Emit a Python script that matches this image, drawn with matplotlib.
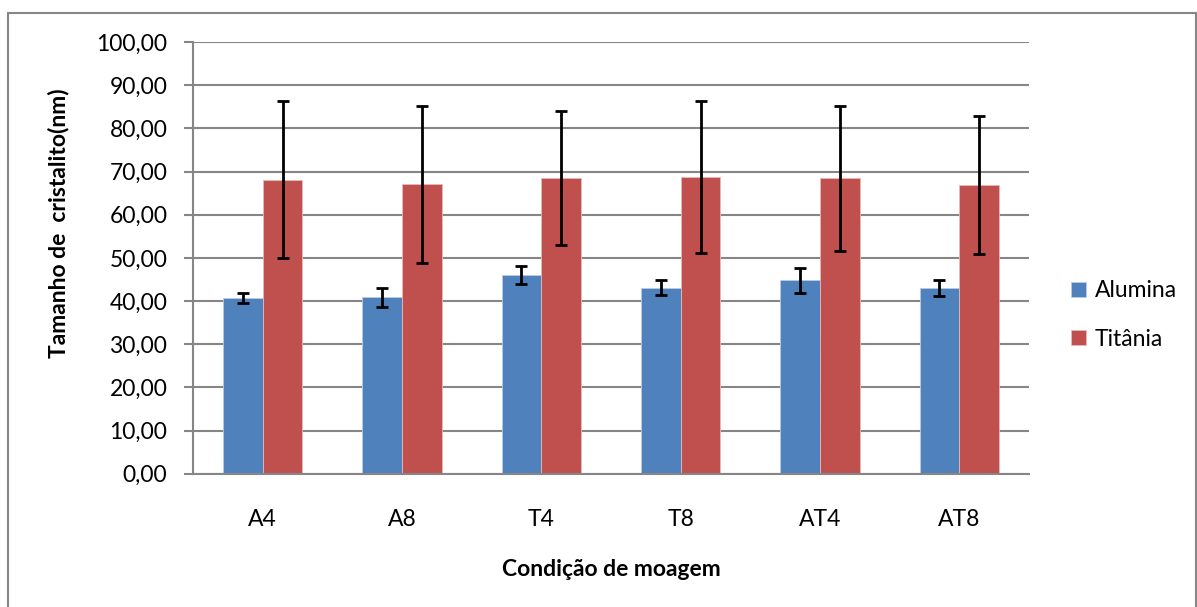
import matplotlib
matplotlib.use("Agg")
import matplotlib.pyplot as plt
import numpy as np
from matplotlib.patches import Rectangle

categories = ["A4", "A8", "T4", "T8", "AT4", "AT8"]
alumina = [40.7, 40.9, 46.0, 43.1, 44.8, 43.0]
alumina_err = [1.2, 2.2, 2.1, 1.7, 2.9, 1.9]
titania = [68.1, 67.0, 68.5, 68.7, 68.4, 66.9]
titania_err = [18.2, 18.1, 15.6, 17.6, 16.8, 16.0]
series_names = ["Alumina", "Titânia"]
yticks = np.arange(0, 101, 10)

plt.rcParams['font.family'] = ['Lato', 'DejaVu Sans']
FS = 16.5

W, H = 1197, 607
fig = plt.figure(figsize=(W / 100, H / 100), dpi=100)
ax = fig.add_axes([193 / W, 1 - 473.8 / H, (1029 - 193) / W, (473.8 - 42) / H])

x = np.arange(len(categories))
w = 1 / 3.5
ekw = dict(ecolor="black", elinewidth=2.0, capthick=2.0)
ax.bar(x - w / 2, alumina, w, color="#4F81BD", edgecolor="#B8CCE4", linewidth=0.6,
       yerr=alumina_err, capsize=4.5, error_kw=ekw, label=series_names[0], zorder=3)
ax.bar(x + w / 2, titania, w, color="#C0504D", edgecolor="#E6B9B8", linewidth=0.6,
       yerr=titania_err, capsize=4.5, error_kw=ekw, label=series_names[1], zorder=3)

ax.set_xlim(-0.5, len(categories) - 0.5)
ax.set_ylim(0, 100)
ax.set_yticks(yticks)
ax.set_yticklabels([f"{v:.2f}".replace(".", ",") for v in yticks], fontsize=FS)
ax.set_xticks(x)
ax.set_xticklabels(categories, fontsize=FS)
ax.tick_params(axis="x", length=0, pad=25)
ax.tick_params(axis="y", length=6.5, width=1.5, color="#868686", pad=12)
ax.yaxis.grid(True, color="#868686", linewidth=1.5, zorder=0)
ax.set_axisbelow(True)
for s in ["top", "right"]:
    ax.spines[s].set_visible(False)
for s in ["left", "bottom"]:
    ax.spines[s].set_color("#868686")
    ax.spines[s].set_linewidth(1.5)
ax.spines["bottom"].set_zorder(4)

fig.text(59 / W, 1 - 223 / H, "Tamanho de  cristalito(nm)", rotation=90,
         ha="center", va="center", fontsize=FS, fontweight="bold")
fig.text(611 / W, 1 - 570 / H, "Condição de moagem", ha="center", va="center",
         fontsize=FS, fontweight="bold")

leg = ax.legend(loc="center left", bbox_to_anchor=(1071 / W, 1 - 315 / H),
                bbox_transform=fig.transFigure, frameon=False, fontsize=FS,
                borderpad=0, borderaxespad=0,
                handlelength=0.65, handleheight=0.65, handletextpad=0.4, labelspacing=1.2)

fig.patches.append(Rectangle((8 / W, -0.1), (1196 - 8) / W, (1 - 13 / H) + 0.1,
                             transform=fig.transFigure, fill=False,
                             edgecolor="#868686", linewidth=1.5))

fig.savefig("out.png", dpi=100)
